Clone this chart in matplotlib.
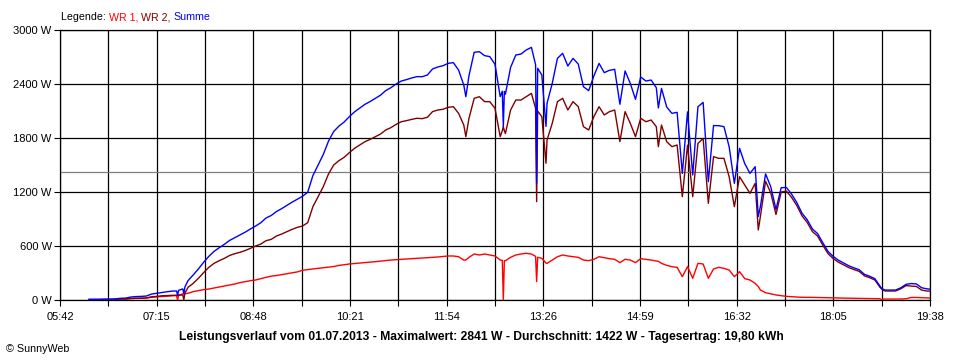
import matplotlib
matplotlib.use("Agg")
import matplotlib.pyplot as plt
import numpy as np

plt.rcParams['font.family'] = ['Liberation Sans', 'DejaVu Sans']

# ---------------- data ----------------
TIMES = [
    "06:10", "06:15", "06:20", "06:25", "06:30", "06:35", "06:40", "06:45", "06:50", "06:55",
    "07:00", "07:05", "07:10", "07:15", "07:20", "07:25", "07:30", "07:34", "07:35", "07:36", "07:40", "07:41", "07:42", "07:45", "07:50", "07:55",
    "08:00", "08:05", "08:10", "08:15", "08:20", "08:25", "08:30", "08:35", "08:40", "08:45", "08:50", "08:55",
    "09:00", "09:05", "09:10", "09:15", "09:20", "09:25", "09:30", "09:35", "09:40", "09:45", "09:50", "09:55",
    "10:00", "10:05", "10:10", "10:15", "10:20", "10:25", "10:30", "10:35", "10:40", "10:45", "10:50", "10:55",
    "11:00", "11:05", "11:10", "11:15", "11:20", "11:25", "11:30", "11:35", "11:40", "11:45", "11:50", "11:55",
    "12:00", "12:05", "12:10", "12:12", "12:15", "12:20", "12:25", "12:30", "12:35", "12:40", "12:45", "12:47", "12:48", "12:49", "12:50", "12:55",
    "13:00", "13:05", "13:10", "13:15", "13:19", "13:20", "13:21", "13:25", "13:29", "13:30", "13:35", "13:40", "13:45", "13:50", "13:55",
    "14:00", "14:05", "14:10", "14:15", "14:20", "14:25", "14:30", "14:35", "14:40", "14:45", "14:50", "14:55",
    "15:00", "15:05", "15:10", "15:15", "15:17", "15:20", "15:25", "15:30", "15:35", "15:40", "15:45", "15:50", "15:55",
    "16:00", "16:05", "16:10", "16:15", "16:20", "16:25", "16:30", "16:35", "16:40", "16:45", "16:50", "16:53", "16:55",
    "17:00", "17:05", "17:10", "17:15", "17:20", "17:25", "17:30", "17:35", "17:40", "17:45", "17:50", "17:55",
    "18:00", "18:05", "18:10", "18:15", "18:20", "18:25", "18:30", "18:35", "18:40", "18:45", "18:50", "18:52", "18:53", "18:55",
    "19:00", "19:05", "19:10", "19:15", "19:20", "19:25", "19:30", "19:35", "19:38",
]

WR1 = [
    3, 3, 3, 4, 4, 5, 8, 9, 15, 18,
    20, 22, 30, 35, 38, 42, 47, 48, 0, 55, 67, 68, 70, 74, 93, 104,
    115, 122, 133, 144, 156, 167, 178, 193, 204, 215, 222, 237,
    252, 265, 272, 282, 292, 302, 312, 330, 338, 345, 352, 358,
    365, 372, 384, 392, 400, 405, 410, 415, 420, 426, 432, 438,
    444, 448, 452, 456, 460, 463, 466, 470, 474, 478, 484, 489,
    489, 481, 444, 444, 474, 511, 500, 511, 500, 489, 444, 440, 0, 437, 437, 474,
    500, 511, 519, 511, 485, 204, 475, 463, 410, 407, 444, 481, 500, 489, 481,
    474, 444, 437, 452, 481, 470, 459, 452, 415, 452, 444, 415,
    459, 452, 444, 433, 430, 407, 385, 370, 363, 259, 370, 241, 407,
    400, 241, 345, 363, 352, 333, 259, 315, 237, 222, 185, 150, 111,
    81, 68, 56, 48, 40, 36, 33, 30, 30, 29, 28, 26,
    25, 24, 22, 21, 20, 19, 18, 17, 16, 15, 14, 0, 10, 10,
    10, 11, 11, 14, 28, 28, 26, 24, 22,
]

WR2 = [
    5, 5, 5, 6, 6, 7, 11, 12, 18, 20,
    20, 22, 36, 40, 47, 50, 52, 52, 52, 53, 56, 0, 74, 141, 185, 241,
    304, 363, 407, 437, 463, 495, 515, 530, 550, 574, 600, 622,
    659, 674, 711, 733, 759, 785, 807, 822, 859, 1037, 1148, 1259,
    1400, 1500, 1548, 1585, 1637, 1685, 1722, 1759, 1785, 1815, 1844, 1889,
    1915, 1952, 1981, 1993, 2007, 2019, 2015, 2030, 2093, 2111, 2119, 2141,
    2148, 2074, 1944, 1815, 2019, 2241, 2259, 2204, 2204, 2130, 1815, 1880, 1926, 1880, 1850, 2111,
    2222, 2222, 2259, 2296, 2130, 1093, 2100, 2037, 1519, 1778, 1963, 2204, 2241, 2111, 2204,
    2148, 1926, 1889, 2037, 2148, 2056, 2093, 2111, 1760, 2093, 1963, 1815,
    2019, 1981, 2000, 1926, 1704, 1944, 1759, 1704, 1722, 1148, 1720, 1148, 1740,
    1796, 1074, 1593, 1574, 1574, 1370, 1037, 1370, 1278, 1185, 1296, 778, 926,
    1320, 1190, 950, 1200, 1210, 1140, 1050, 935, 862, 760, 710, 610,
    515, 460, 420, 390, 360, 338, 318, 268, 248, 222, 140, 120, 110, 100,
    100, 100, 125, 160, 155, 150, 110, 100, 98,
]

SUMME = [a + b for a, b in zip(WR1, WR2)]

X_LABELS = ["05:42", "07:15", "08:48", "10:21", "11:54", "13:26", "14:59", "16:32", "18:05", "19:38"]
Y_TICKS = [0, 600, 1200, 1800, 2400, 3000]
AVERAGE = 1422
MAXIMUM = 2841
DATE = "01.07.2013"
YIELD = "19,80"


def to_min(s):
    h, m = s.split(":")
    return int(h) * 60 + int(m)


t = np.array([to_min(s) for s in TIMES])
start, end = to_min(X_LABELS[0]), to_min(X_LABELS[-1])

W, H = 960, 360
fig = plt.figure(figsize=(W / 100, H / 100), dpi=100)
fig.patch.set_facecolor('white')
ax = fig.add_axes([60 / W, 60 / H, 870 / W, 270 / H])

ax.set_xlim(start, end)
ax.set_ylim(0, 3000)
xt = np.linspace(start, end, 2 * (len(X_LABELS) - 1) + 1)
ax.set_xticks(xt)
labs = [''] * len(xt)
labs[::2] = X_LABELS
ax.set_xticklabels(labs)
ax.set_yticks(Y_TICKS)
ax.set_yticklabels([f"{v} W" for v in Y_TICKS])
ax.tick_params(axis='both', direction='out', length=4, width=0.8, colors='black', labelsize=8)
ax.tick_params(axis='x', pad=5)
ax.tick_params(axis='y', pad=2)
ax.set_axisbelow(True)
ax.grid(True, color='black', lw=0.9)
for sp in ax.spines.values():
    sp.set_color('black')
    sp.set_linewidth(0.9)

ax.axhline(AVERAGE, color='#808080', lw=0.9, zorder=1.5)
ax.plot(t, WR1, color='#ff0000', lw=1.0, zorder=3)
ax.plot(t, WR2, color='#800000', lw=1.0, zorder=4)
ax.plot(t, SUMME, color='#0000ff', lw=1.0, zorder=5)

renderer = fig.canvas.get_renderer()


def fit_text(x, y, s, target_w, ha='left', **kw):
    txt = fig.text(x / W, 1 - y / H, s, ha=ha, va='center', **kw)
    bb = txt.get_window_extent(renderer)
    if bb.width > 0:
        txt.set_fontsize(txt.get_fontsize() * target_w / bb.width)
    return txt


# legend (sequential coloured pieces)
pieces = [("Legende: ", "black"), ("WR 1, ", "#ff0000"), ("WR 2, ", "#800000"), ("Summe", "#0000ff")]
x0 = 61
size = 8.0
tmp = fig.text(0, 0, "".join(p for p, _ in pieces), fontsize=size)
tw = tmp.get_window_extent(renderer).width
tmp.remove()
size = size * 150 / tw
xx = x0
for s, c in pieces:
    tt = fig.text(xx / W, 1 - 17 / H, s, color=c, fontsize=size, va='center', ha='left')
    xx += tt.get_window_extent(renderer).width

title = (f"Leistungsverlauf vom {DATE} - Maximalwert: {MAXIMUM} W - "
         f"Durchschnitt: {AVERAGE} W - Tagesertrag: {YIELD} kWh")
fit_text(481, 337, title, 608, ha='center', fontsize=8, fontweight='bold')
fit_text(6, 349, "© SunnyWeb", 64, ha='left', fontsize=8)

fig.savefig("out.png", dpi=100, facecolor='white')
